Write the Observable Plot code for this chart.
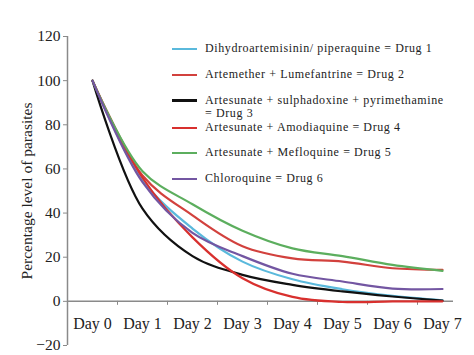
<!DOCTYPE html>
<html>
<head>
<meta charset="utf-8">
<script src="https://cdn.jsdelivr.net/npm/d3@7"></script>
<script src="https://cdn.jsdelivr.net/npm/@observablehq/plot@0.6"></script>
<style>
  html, body { margin: 0; padding: 0; background: #fff; }
  #wrap { position: relative; width: 474px; height: 355px; overflow: hidden; font-family: "Liberation Serif", "Times New Roman", Tinos, "DejaVu Serif", serif; }
  #clip { position: absolute; left: 0; top: 0; width: 474px; height: 355px; }
  #clip svg { max-width: none !important; width: 474px; height: 355px; }
  #legend { position: absolute; left: 172px; top: 0; font-size: 12px; letter-spacing: 0.6px; color: #222; }
  .row { position: absolute; left: 0; white-space: nowrap; line-height: 13.5px; height: 13.5px; }
  .sw { position: absolute; left: 0; width: 25px; height: 2.5px; top: 5.5px; }
  .lab { position: absolute; left: 33px; top: 0; }
</style>
</head>
<body>
<div id="wrap"><div id="clip"></div><div id="legend"></div></div>
<script>
const days = ["Day 0", "Day 1", "Day 2", "Day 3", "Day 4", "Day 5", "Day 6", "Day 7"];
const drugNames = [
  "Dihydroartemisinin/ piperaquine = Drug 1",
  "Artemether + Lumefantrine = Drug 2",
  "Artesunate + sulphadoxine + pyrimethamine\n= Drug 3",
  "Artesunate + Amodiaquine = Drug 4",
  "Artesunate + Mefloquine = Drug 5",
  "Chloroquine = Drug 6"
];
const drugColors = ["#5ab9dc", "#d2413d", "#111111", "#d8302e", "#5cae5e", "#7356a2"];
const drug1 = [100, 55, 33, 18, 10, 5.5, 2.5, 0.5];
const drug2 = [100, 57, 39, 25, 19.5, 18, 15, 14.3];
const drug3 = [100, 42, 20.5, 12, 7.5, 4.5, 2.2, 0.3];
const drug4 = [100, 56, 29, 10.5, 2, -0.3, 0, 0];
const drug5 = [100, 59, 44, 32, 24, 20.5, 16.5, 13.8];
const drug6 = [100, 54, 31, 20.5, 12.5, 9, 5.8, 5.6];
const yTicks = [-20, 0, 20, 40, 60, 80, 100, 120];

const series = [drug1, drug2, drug3, drug4, drug5, drug6];
const rows = series.flatMap((vals, s) => vals.map((v, i) => ({drug: s, day: i, value: v})));
const bounds = days.slice(1).map((d, i) => i + 0.5);

const axisColor = "#8a8a8a";
const serif = "'Liberation Serif', 'Times New Roman', Tinos, 'DejaVu Serif', serif";
const chart = Plot.plot({
  width: 474,
  height: 355,
  marginLeft: 67,
  marginRight: 7,
  marginTop: 36,
  marginBottom: 10,
  style: {fontFamily: serif, fontSize: "16px", background: "white", color: "#222"},
  x: {domain: [-0.5, days.length - 0.5], axis: null},
  y: {domain: [-20, 120]},
  marks: [
    Plot.axisY({ticks: yTicks, tickSize: 4, tickPadding: 3, stroke: axisColor, label: "Percentage level of parasites", labelAnchor: "center", labelArrow: false, labelOffset: 47, fontSize: 15.5}),
    Plot.ruleX([-0.5], {y1: -20, y2: 120, stroke: axisColor, strokeWidth: 1.5}),
    Plot.ruleY([0], {x1: -0.5, x2: days.length - 0.78, stroke: axisColor, strokeWidth: 1.5}),
    Plot.ruleX(bounds, {y1: 0, y2: -1.8, stroke: axisColor}),
    Plot.text(days, {x: (d, i) => i, y: 0, text: d => d, dy: 23, fontSize: 16, fill: "#222"}),
    Plot.line(rows, {x: "day", y: "value", z: "drug", stroke: d => drugColors[d.drug], strokeWidth: 2.2, curve: "catmull-rom"})
  ]
});
document.getElementById("clip").appendChild(chart);

const legendY = [49, 75, 100.5, 128, 153, 179];
const lineGap = 13.5;
const legend = document.getElementById("legend");
drugNames.forEach((name, i) => {
  const lines = name.split("\n");
  lines.forEach((text, j) => {
    const row = document.createElement("div");
    row.className = "row";
    row.style.top = (legendY[i] - 6.75 + j * lineGap) + "px";
    if (j === 0) {
      const sw = document.createElement("div");
      sw.className = "sw";
      sw.style.background = drugColors[i];
      row.appendChild(sw);
    }
    const lab = document.createElement("div");
    lab.className = "lab";
    lab.textContent = text;
    row.appendChild(lab);
    legend.appendChild(row);
  });
});
</script>
</body>
</html>
